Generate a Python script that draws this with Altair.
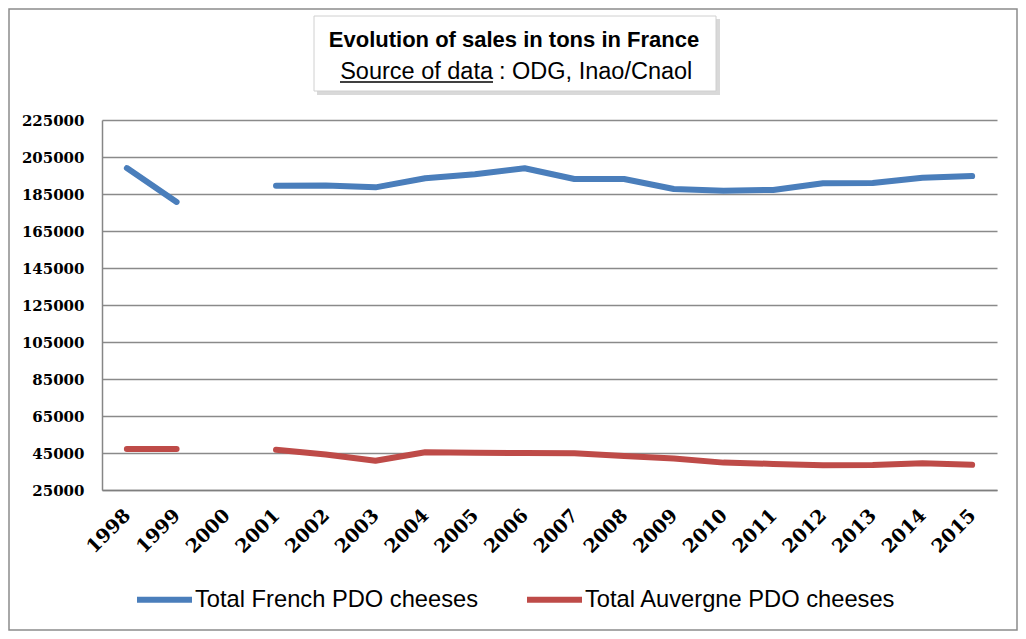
import altair as alt
import pandas as pd

years = ["1998", "1999", "2000", "2001", "2002", "2003", "2004", "2005", "2006",
         "2007", "2008", "2009", "2010", "2011", "2012", "2013", "2014", "2015"]
french = [199000, 180700, None, 189500, 189600, 188600, 193500, 195700, 198900,
          193100, 193100, 187700, 186800, 187200, 190800, 191000, 193800, 194700]
auvergne = [47200, 47200, None, 46800, 44200, 40800, 45400, 45150, 45000,
            44800, 43400, 42000, 39800, 39100, 38400, 38500, 39400, 38600]
series_names = ["Total French PDO cheeses", "Total Auvergne PDO cheeses"]
series_colors = ["#4A7EBB", "#BE4B48"]
y_ticks = [25000, 45000, 65000, 85000, 105000, 125000, 145000, 165000, 185000, 205000, 225000]

title_text = "Evolution of sales in tons in France"
source_label = "Source of data"
source_rest = ": ODG, Inao/Cnaol"

rows = []
for i, yr in enumerate(years):
    rows.append({"year": yr, "series": series_names[0], "value": french[i]})
    rows.append({"year": yr, "series": series_names[1], "value": auvergne[i]})
df = pd.DataFrame(rows)

W, H = 895, 370
SANS = "Liberation Sans"
SERIF = "DejaVu Serif"

lines = alt.Chart(df).mark_line(
    strokeWidth=6, strokeCap="round", strokeJoin="round"
).encode(
    x=alt.X("year:O", scale=alt.Scale(type="point", domain=years, padding=0.5),
            axis=alt.Axis(title=None, labelAngle=315, labelAlign="right", labelBaseline="middle",
                          labelPadding=22, ticks=False, domainColor="#7f7f7f",
                          domainWidth=1.5, labelFont=SERIF, labelFontWeight="bold",
                          labelFontSize=19, labelColor="#000000", grid=False)),
    y=alt.Y("value:Q", scale=alt.Scale(domain=[25000, 225000], nice=False, zero=False),
            axis=alt.Axis(title=None, values=y_ticks, format="d", ticks=False, labelPadding=18,
                          domainColor="#868686", domainWidth=1.5, gridColor="#8a8a8a",
                          gridWidth=1.5, labelFont=SERIF, labelFontWeight="bold",
                          labelFontSize=15, labelColor="#000000")),
    color=alt.Color("series:N",
                    scale=alt.Scale(domain=series_names, range=series_colors),
                    legend=alt.Legend(title=None, orient="none", legendX=32, legendY=449,
                                      direction="horizontal", symbolType="stroke",
                                      symbolStrokeWidth=6, symbolSize=3025,
                                      labelFont=SANS, labelFontSize=23.7, labelColor="#000000",
                                      labelOffset=0, labelLimit=0, columnPadding=36)),
    detail="series:N",
)

one = pd.DataFrame({"t": [title_text], "s": [source_label], "r": [source_rest]})

border = alt.Chart(one).mark_rect(fill=None, stroke="#8c8c8c", strokeWidth=1.5).encode(
    x=alt.value(-93), x2=alt.value(W + 20), y=alt.value(-111), y2=alt.value(H + 140))
shadow = alt.Chart(one).mark_rect(fill="#bfbfbf", opacity=0.6).encode(
    x=alt.value(215), x2=alt.value(618), y=alt.value(-101), y2=alt.value(-25))
box = alt.Chart(one).mark_rect(fill="white", stroke="#d0d0d0", strokeWidth=1).encode(
    x=alt.value(212), x2=alt.value(614), y=alt.value(-104), y2=alt.value(-29))
title = alt.Chart(one).mark_text(font=SANS, fontSize=22, fontWeight="bold", color="#000000",
                                 align="center", baseline="middle").encode(
    x=alt.value(412), y=alt.value(-80), text="t:N")
src = alt.Chart(one).mark_text(font=SANS, fontSize=23.5, color="#000000",
                               align="right", baseline="middle").encode(
    x=alt.value(391), y=alt.value(-48), text="s:N")
rest = alt.Chart(one).mark_text(font=SANS, fontSize=23.5, color="#000000",
                                align="left", baseline="middle").encode(
    x=alt.value(397), y=alt.value(-48), text="r:N")
underline = alt.Chart(one).mark_rule(color="#000000", strokeWidth=1.5).encode(
    x=alt.value(238), x2=alt.value(391), y=alt.value(-38))

chart = alt.layer(border, lines, shadow, box, title, src, rest, underline).properties(
    width=W, height=H,
    padding={"left": 94, "top": 112, "right": 21, "bottom": 141},
    autosize=alt.AutoSizeParams(type="none"),
    background="white",
).configure_view(stroke=None)

chart.save("out.html", embed_options={"renderer": "svg", "actions": False})
